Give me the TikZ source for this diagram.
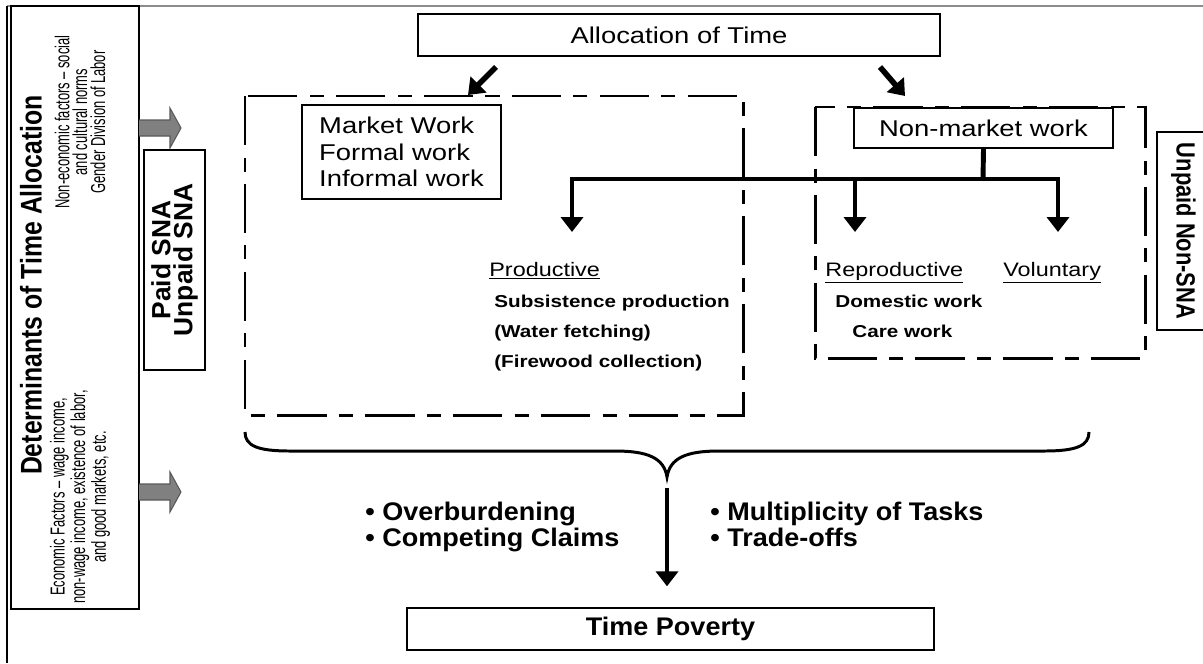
\documentclass[tikz,border=0pt]{standalone}
\usepackage{fontspec}
\setmainfont{Liberation Sans}
\newfontfamily\wideface[FakeStretch=1.2]{Liberation Sans}
\newfontfamily\tallface[FakeStretch=1.06]{Liberation Sans}
\newfontfamily\sideface[FakeStretch=0.83]{Liberation Sans}
\newfontfamily\noteface[FakeStretch=0.64]{Liberation Sans}
\usetikzlibrary{arrows.meta,calc}
\tikzset{
	plainbox/.style={draw, line width=0.8pt, inner sep=0pt, fill=white},
	dashbox/.style={line width=1.7pt, dash pattern=on 28pt off 7pt on 8pt off 7pt},
	fatarrow/.style={line width=2.8pt, -{Triangle[width=12.5pt,length=8.5pt]}},
	worktext/.style={anchor=base west, inner sep=0pt, font=\wideface\fontsize{11.1}{13}\selectfont},
	itemtext/.style={anchor=base west, inner sep=0pt, font=\wideface\bfseries\fontsize{9.8}{12}\selectfont},
	listtext/.style={anchor=base west, inner sep=0pt, font=\tallface\bfseries\fontsize{14.5}{15}\selectfont},
	notetext/.style={rotate=90, align=center, font=\noteface\fontsize{11.5}{10.2}\selectfont}
}

\begin{document}
\begin{tikzpicture}[x=0.2mm, y=-0.2mm]
			%%%%% START %%%%%
			\useasboundingbox (0,0) rectangle (1203,663);
			
			\draw[line width=0.8pt, color=black!45] (7,6) -- (1203,6);
			\draw[line width=0.8pt] (7,6) -- (7,663);
			
			\draw[line width=1pt] (11,6) rectangle (139,609);
			\node[rotate=90, font=\sideface\bfseries\fontsize{17}{18}\selectfont] (det) at (31,285) {Determinants of Time Allocation};
			\node[notetext] (econ) at (80,497) {Economic Factors – wage income,\\non-wage income, existence of labor,\\and good markets, etc.};
			\node[notetext] (noneco) at (80,122) {Non-economic factors – social\\and cultural norms\\Gender Division of Labor};
			
			\foreach \c in {128,492}
				\draw[fill=black!50, draw=black!65, line width=0.6pt] (139,{\c-8}) -- (170,{\c-8}) -- (170,{\c-20}) -- (181,\c) -- (170,{\c+20}) -- (170,{\c+8}) -- (139,{\c+8});
			
			\node[plainbox, rotate=90, minimum width=44mm, minimum height=12.2mm, align=center, font=\bfseries\fontsize{15}{12.5}\selectfont] (sna) at (174.5,260) {Paid SNA\\Unpaid SNA};
			
			\node[plainbox, minimum width=104.4mm, minimum height=8.4mm, font=\wideface\fontsize{13}{15}\selectfont] (alloc) at (679,35) {Allocation of Time};
			\coordinate (lstart) at (496,67);
			\coordinate (ltip) at (468,95);
			\coordinate (rstart) at (880,67);
			\coordinate (rtip) at (905,96);
			\draw[fatarrow, line width=3.2pt] (lstart) -- (ltip);
			\draw[fatarrow, line width=3.2pt] (rstart) -- (rtip);
			
			\draw[dashbox] (245,96) rectangle (743,415);
			\draw[dashbox] (815,107) rectangle (1145,358);
			
			\node[plainbox, minimum width=39.8mm, minimum height=18.8mm, align=left, font=\wideface\fontsize{13}{15}\selectfont] (market) at (401.5,152) {Market Work\\Formal work\\Informal work};
			\node[plainbox, minimum width=51.8mm, minimum height=8mm, font=\wideface\fontsize{13}{15}\selectfont] (nonmarket) at (983.5,128) {Non-market work};
			
			\coordinate (hub) at (983,179);
			\coordinate (jprod) at (572,179);
			\coordinate (jrep) at (855,179);
			\coordinate (jvol) at (1058,179);
			\draw[line width=2.8pt] (nonmarket.south) -- (hub);
			\draw[fatarrow] (hub) -- (jprod) -- (572,232);
			\draw[fatarrow] (hub) -- (jvol) -- (1058,232);
			\draw[fatarrow] (jrep) -- (855,232);
			
			\node[worktext] (prod) at (489,276) {\underline{Productive}};
			\node[itemtext] (subs) at (494,307) {Subsistence production};
			\node[itemtext] (water) at (494,337) {(Water fetching)};
			\node[itemtext] (fire) at (494,367) {(Firewood collection)};
			
			\node[worktext] (repro) at (825,276) {\underline{Reproductive}};
			\node[worktext] (volun) at (1003,276) {\underline{Voluntary}};
			\node[itemtext] (domestic) at (835,307) {Domestic work};
			\node[itemtext] (care) at (852,337) {Care work};
			
			\node[plainbox, rotate=-90, minimum width=39.6mm, minimum height=10.6mm, font=\sideface\bfseries\fontsize{15}{15}\selectfont] (nonsna) at (1183.5,231) {Unpaid Non-SNA};
			
			\draw[line width=1.7pt] (245,432) .. controls (245,446) and (258,451) .. (290,451) -- (615,451) .. controls (648,451) and (664,458) .. (667,477) .. controls (670,458) and (686,451) .. (719,451) -- (1044,451) .. controls (1076,451) and (1089,446) .. (1089,432);
			
			\node[plainbox, minimum width=105.4mm, minimum height=8.4mm, font=\tallface\bfseries\fontsize{14.5}{15}\selectfont] (poverty) at (670.5,629) {Time Poverty};
			\coordinate (bracetip) at (667,488);
			\draw[fatarrow] (bracetip) -- ($(poverty.north)+(-3.5,-21)$);
			
			\node[listtext] (over) at (365,520) {• Overburdening};
			\node[listtext] (claims) at (365,546) {• Competing Claims};
			\node[listtext] (tasks) at (710,520) {• Multiplicity of Tasks};
			\node[listtext] (trade) at (710,546) {• Trade-offs};
			
			%%%%% END %%%%%
\end{tikzpicture}
\end{document}
